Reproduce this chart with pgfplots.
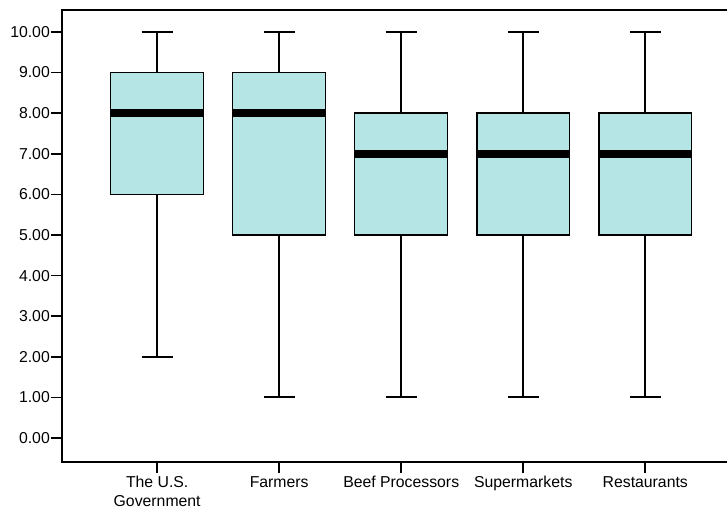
\documentclass[border=0pt]{standalone}
\usepackage{pgfplots}
\pgfplotsset{compat=1.18}
\usepgfplotslibrary{statistics}
\usepackage{fontspec}
\setmainfont{Liberation Sans}
\definecolor{boxfill}{RGB}{181,229,229}
\begin{document}
\begin{tikzpicture}
\path[use as bounding box] (-62pt,-50pt) rectangle (665pt,462pt);
\begin{axis}[
  at={(0,0)}, anchor=south west,
  scale only axis,
  width=665pt, height=452pt,
  xmin=-0.78, xmax=4.67,
  ymin=-0.59, ymax=10.54,
  axis line style={draw=none},
  xtick align=outside, ytick align=outside,
  xtick pos=bottom, ytick pos=left,
  major tick length=11pt,
  xtick style={draw=black, line width=1.6pt},
  ytick style={draw=black, line width=1.6pt},
  xtick={0,1,2,3,4},
  xticklabels={{The U.S.\\Government},Farmers,{Beef Processors},Supermarkets,Restaurants},
  xticklabel style={align=center, font=\fontsize{15.8}{18.5}\selectfont, inner ysep=3pt},
  ytick={0,1,...,10},
  yticklabel style={font=\fontsize{15.8}{17.5}\selectfont, inner xsep=1pt, /pgf/number format/.cd, fixed, fixed zerofill, precision=2, assume math mode=true},
  boxplot/draw direction=y,
  boxplot/box extend=0.76,
  boxplot/whisker extend=0.254,
  boxplot/every box/.style={draw=black, line width=1.3pt, fill=boxfill},
  boxplot/every whisker/.style={black, line width=2pt},
  boxplot/every median/.style={black, line width=8pt},
  clip=false,
]
\addplot+[mark=none, black, boxplot prepared={draw position=0, lower whisker=2, lower quartile=6, median=8, upper quartile=9, upper whisker=10}] coordinates {};
\addplot+[mark=none, black, boxplot prepared={draw position=1, lower whisker=1, lower quartile=5, median=8, upper quartile=9, upper whisker=10}] coordinates {};
\addplot+[mark=none, black, boxplot prepared={draw position=2, lower whisker=1, lower quartile=5, median=7, upper quartile=8, upper whisker=10}] coordinates {};
\addplot+[mark=none, black, boxplot prepared={draw position=3, lower whisker=1, lower quartile=5, median=7, upper quartile=8, upper whisker=10}] coordinates {};
\addplot+[mark=none, black, boxplot prepared={draw position=4, lower whisker=1, lower quartile=5, median=7, upper quartile=8, upper whisker=10}] coordinates {};
\pgfplotsinvokeforeach{0,1,2,3,4}{
  \draw[line width=1.6pt] (axis cs:#1,-0.59) -- ++(0pt,-11pt);
}
\draw[line width=2pt, line cap=rect] (rel axis cs:1.02,1) -- (rel axis cs:0,1) -- (rel axis cs:0,0) -- (rel axis cs:1.02,0);
\end{axis}
\end{tikzpicture}
\end{document}
